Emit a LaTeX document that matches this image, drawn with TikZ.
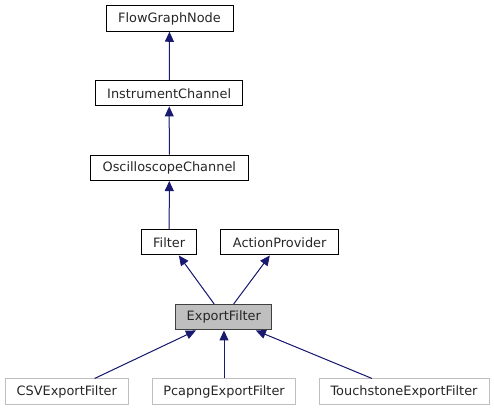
\documentclass[tikz,border=0pt]{standalone}
\usepackage{fontspec}
\setmainfont{DejaVu Sans}
\usetikzlibrary{arrows.meta}
\definecolor{edgeblue}{HTML}{191970}
\definecolor{lightbd}{HTML}{BFBFBF}
\definecolor{hilite}{HTML}{BFBFBF}
\definecolor{darkbd}{HTML}{404040}
\tikzset{
  cls/.style={draw=black, line width=1bp, minimum height=25.5bp, inner sep=0pt,
    font=\fontsize{12.9bp}{15bp}\selectfont, text=black!85},
  leaf/.style={cls, draw=lightbd},
  cur/.style={cls, draw=darkbd, fill=hilite},
  inh/.style={draw=edgeblue, line width=1bp, -{Triangle[length=10bp,width=9bp]}, fill=edgeblue},
}
\begin{document}
\begin{tikzpicture}[x=1bp,y=-1bp]
\useasboundingbox (0,0) rectangle (494,411);
\node[cls, minimum width=127bp] (fgn) at (169.5,18.5) {FlowGraphNode};
\node[cls, minimum width=147bp] (ic) at (169.2,93.2) {InstrumentChannel};
\node[cls, minimum width=158bp] (oc) at (169.3,167.8) {OscilloscopeChannel};
\node[cls, minimum width=55bp] (flt) at (169.2,242.2) {Filter};
\node[cls, minimum width=118bp] (ap) at (279.7,242.2) {ActionProvider};
\node[cur, minimum width=96.3bp] (ef) at (223.8,317.2) {ExportFilter};
\node[leaf, minimum width=123.3bp] (csv) at (66.7,391.7) {CSVExportFilter};
\node[leaf, minimum width=142.6bp] (pcap) at (224,391.7) {PcapngExportFilter};
\node[leaf, minimum width=170bp] (ts) at (404,391.7) {TouchstoneExportFilter};
\draw[inh] (ic) -- (fgn);
\draw[inh] (oc) -- (ic);
\draw[inh] (flt) -- (oc);
\draw[inh] (ef) -- (flt);
\draw[inh] (ef) -- (ap);
\draw[inh] (csv) -- (ef);
\draw[inh] (pcap) -- (pcap |- ef.south);
\draw[inh] (ts) -- (ef);
\end{tikzpicture}
\end{document}
